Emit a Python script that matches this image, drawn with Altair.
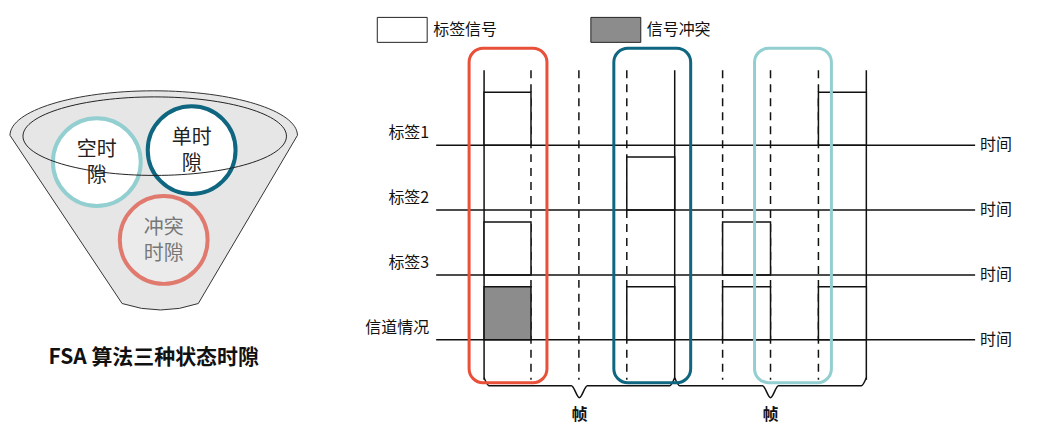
import altair as alt
import pandas as pd

FONT = "Noto Sans CJK SC"
# slot boundaries (x) and their style
bounds_x = [483, 530, 578, 626, 674, 722, 770, 818, 866]
bounds_solid = [1, 0, 0, 0, 1, 0, 0, 0, 1]
# timeline rows
row_names = ["标签1", "标签2", "标签3", "信道情况"]
row_y = [145, 210, 275, 340]
# signal boxes: row index, slot index, collision flag
box_row = [0, 0, 1, 2, 2, 3, 3, 3, 3]
box_slot = [0, 7, 3, 0, 5, 0, 3, 5, 7]
box_coll = [0, 0, 0, 0, 0, 1, 0, 0, 0]
# highlight frames
hl_x = [468, 613, 754]
hl_x2 = [546, 690, 831]
hl_color = ["#E8503A", "#0E6680", "#93CFD0"]
# frames (braces)
frame_a = [483, 674]
frame_b = [674, 866]
# funnel circles
circ_line1 = ["空时", "单时", "冲突"]
circ_line2 = ["隙", "隙", "时隙"]
circ_x = [95, 190, 162]
circ_y = [162, 150, 240]
circ_col = ["#93CFD0", "#0E6680", "#E07A6E"]
circ_fill = ["white", "white", "#EBEBEB"]
circ_text = ["#222222", "#222222", "#777777"]

X = alt.X("x:Q", scale=alt.Scale(domain=[8, 1037], nice=False, zero=False), axis=None)
Y = alt.Y("y:Q", scale=alt.Scale(domain=[8, 431], nice=False, zero=False, reverse=True), axis=None)
X2 = alt.X2("x2:Q"); Y2 = alt.Y2("y2:Q")

layers = []

# funnel body
funnel_path = "M -1,-0.45 A 1,0.31 0 0,1 1,-0.45 L 0.31,0.72 Q 0.05,0.81 -0.22,0.72 Z"
layers.append(alt.Chart(pd.DataFrame({"x": [152], "y": [200]})).mark_point(
    shape=funnel_path, size=288 ** 2, filled=True, fill="#E6E6E6", stroke="#333", strokeWidth=1, opacity=1
).encode(x=X, y=Y))

# circles
cdf = pd.DataFrame({"x": circ_x, "y": circ_y, "c": circ_col, "f": circ_fill})
layers.append(alt.Chart(cdf).mark_point(shape="circle", size=88 ** 2, strokeWidth=4, opacity=1).encode(
    x=X, y=Y, stroke=alt.Stroke("c:N", scale=None), fill=alt.Fill("f:N", scale=None)))

# inner ellipse on top
ell = "M -1,0 A 1,0.298 0 1,1 1,0 A 1,0.298 0 1,1 -1,0 Z"
layers.append(alt.Chart(pd.DataFrame({"x": [153], "y": [136]})).mark_point(
    shape=ell, size=264 ** 2, filled=False, stroke="#222", strokeWidth=1, opacity=1
).encode(x=X, y=Y))

ctdf = pd.DataFrame({"x": circ_x, "y": circ_y, "a": circ_line1, "b": circ_line2, "c": circ_text})
layers.append(alt.Chart(ctdf).mark_text(font=FONT, fontSize=20, dy=-12, baseline="middle").encode(
    x=X, y=Y, text="a:N", color=alt.Color("c:N", scale=None)))
layers.append(alt.Chart(ctdf).mark_text(font=FONT, fontSize=20, dy=14, baseline="middle").encode(
    x=X, y=Y, text="b:N", color=alt.Color("c:N", scale=None)))

layers.append(alt.Chart(pd.DataFrame({"x": [152], "y": [358], "t": ["FSA 算法三种状态时隙"]})).mark_text(
    font=FONT, fontSize=21, fontWeight="bold", color="#111").encode(x=X, y=Y, text="t"))

# legend
ldf = pd.DataFrame({"x": [376, 590], "x2": [426, 640], "y": [17, 17], "y2": [42, 42], "f": ["white", "#8C8C8C"]})
layers.append(alt.Chart(ldf).mark_rect(stroke="#222", strokeWidth=1).encode(x=X, x2=X2, y=Y, y2=Y2,
    fill=alt.Fill("f:N", scale=None)))
layers.append(alt.Chart(pd.DataFrame({"x": [432, 646], "y": [30, 30], "t": ["标签信号", "信号冲突"]})).mark_text(
    font=FONT, fontSize=16, align="left", baseline="middle", color="#111").encode(x=X, y=Y, text="t"))

# vertical slot boundaries
vdf = pd.DataFrame({"x": bounds_x, "y": [70] * 9, "y2": [380] * 9, "s": bounds_solid})
layers.append(alt.Chart(vdf[vdf.s == 1]).mark_rule(color="#111", strokeWidth=1.5).encode(x=X, y=Y, y2=Y2))
layers.append(alt.Chart(vdf[vdf.s == 0]).mark_rule(color="#111", strokeWidth=1.5, strokeDash=[8, 6]).encode(x=X, y=Y, y2=Y2))

# boxes
bdf = pd.DataFrame({
    "x": [bounds_x[s] for s in box_slot], "x2": [bounds_x[s + 1] for s in box_slot],
    "y": [row_y[r] - 53 for r in box_row], "y2": [row_y[r] for r in box_row],
    "f": ["#8C8C8C" if c else "white" for c in box_coll]})
layers.append(alt.Chart(bdf).mark_rect(stroke="#111", strokeWidth=1.5).encode(x=X, x2=X2, y=Y, y2=Y2,
    fill=alt.Fill("f:N", scale=None)))

# horizontal time lines
hdf = pd.DataFrame({"x": [435] * 4, "x2": [975] * 4, "y": row_y})
layers.append(alt.Chart(hdf).mark_rule(color="#111", strokeWidth=1.5).encode(x=X, x2=X2, y=Y))
layers.append(alt.Chart(pd.DataFrame({"x": [428] * 4, "y": [r - 12 for r in row_y], "t": row_names})).mark_text(
    font=FONT, fontSize=16, align="right", baseline="middle", color="#111").encode(x=X, y=Y, text="t"))
layers.append(alt.Chart(pd.DataFrame({"x": [980] * 4, "y": row_y, "t": ["时间"] * 4})).mark_text(
    font=FONT, fontSize=16, align="left", baseline="middle", color="#111").encode(x=X, y=Y, text="t"))

# braces
rows = []
for g, (a, b) in enumerate(zip(frame_a, frame_b)):
    m = (a + b) / 2
    pts = [(a, 378), (a + 5, 386), (m - 8, 386), (m, 398), (m + 8, 386), (b - 5, 386), (b, 378)]
    for i, (px, py) in enumerate(pts):
        rows.append({"x": px, "y": py, "g": g, "o": i})
layers.append(alt.Chart(pd.DataFrame(rows)).mark_line(color="#111", strokeWidth=1.5, interpolate="monotone").encode(
    x=X, y=Y, detail="g:N", order="o:Q"))
layers.append(alt.Chart(pd.DataFrame({"x": [(a + b) / 2 for a, b in zip(frame_a, frame_b)], "y": [415, 415], "t": ["帧", "帧"]})).mark_text(
    font=FONT, fontSize=16, fontWeight="bold", color="#111").encode(x=X, y=Y, text="t"))

# highlight rounded rects
rdf = pd.DataFrame({"x": hl_x, "x2": hl_x2, "y": [48] * 3, "y2": [383] * 3, "c": hl_color})
layers.append(alt.Chart(rdf).mark_rect(cornerRadius=14, fillOpacity=0, fill="white", strokeWidth=3).encode(
    x=X, x2=X2, y=Y, y2=Y2, stroke=alt.Stroke("c:N", scale=None)))

chart = alt.layer(*layers).properties(width=1029, height=423, padding=0).configure_view(stroke=None)
chart.save("out.html", embed_options={"renderer": "svg", "actions": False})
